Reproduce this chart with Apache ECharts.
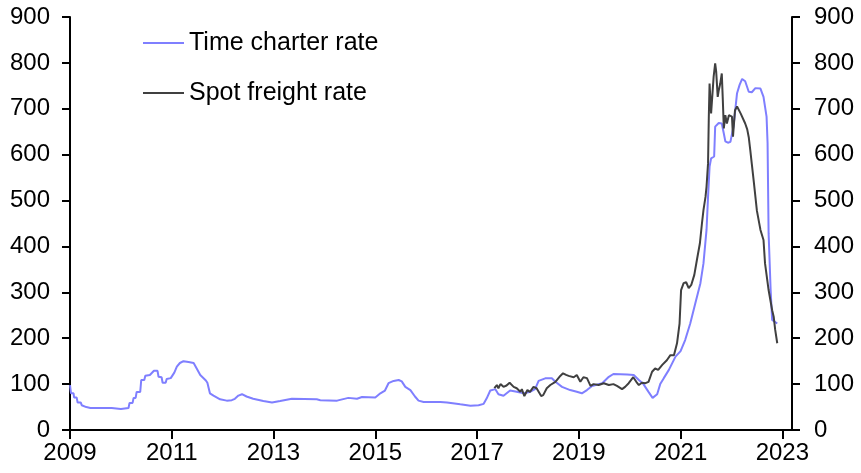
<!DOCTYPE html>
<html>
<head>
<meta charset="utf-8">
<script src="https://cdn.jsdelivr.net/npm/echarts@6/dist/echarts.min.js"></script>
<style>
html,body{margin:0;padding:0;background:#fff;}
#chart{width:861px;height:473px;}
</style>
</head>
<body>
<div id="chart"></div>
<script>
const seriesNames = ['Time charter rate', 'Spot freight rate'];
const yearTicks = [2009, 2011, 2013, 2015, 2017, 2019, 2021, 2023];

const tcYears = [2009.00,2009.02,2009.07,2009.08,2009.13,2009.15,2009.21,2009.23,2009.32,2009.40,2009.82,2009.85,2010.00,2010.15,2010.17,2010.23,2010.25,2010.29,2010.31,2010.38,2010.40,2010.46,2010.48,2010.57,2010.60,2010.65,2010.72,2010.74,2010.80,2010.82,2010.88,2010.90,2010.98,2011.05,2011.10,2011.16,2011.23,2011.33,2011.43,2011.49,2011.56,2011.67,2011.70,2011.75,2011.82,2011.95,2012.08,2012.18,2012.24,2012.31,2012.38,2012.47,2012.60,2012.80,2012.97,2013.13,2013.36,2013.85,2013.92,2014.25,2014.47,2014.64,2014.74,2015.00,2015.10,2015.19,2015.26,2015.36,2015.46,2015.52,2015.59,2015.69,2015.78,2015.85,2015.95,2016.28,2016.41,2016.67,2016.87,2017.03,2017.13,2017.19,2017.26,2017.36,2017.42,2017.52,2017.65,2017.78,2017.92,2018.05,2018.14,2018.21,2018.34,2018.47,2018.54,2018.67,2018.83,2018.96,2019.06,2019.16,2019.26,2019.46,2019.59,2019.68,2019.95,2020.08,2020.18,2020.27,2020.37,2020.45,2020.54,2020.60,2020.67,2020.77,2020.90,2021.00,2021.09,2021.19,2021.29,2021.39,2021.45,2021.51,2021.54,2021.57,2021.60,2021.66,2021.68,2021.75,2021.81,2021.85,2021.88,2021.93,2021.98,2022.04,2022.11,2022.16,2022.21,2022.27,2022.34,2022.40,2022.47,2022.57,2022.63,2022.69,2022.71,2022.73,2022.77,2022.80,2022.90];
const tcValues = [98,80,80,71,71,60,60,54,50,48,48,46,46,48,59,59,70,70,83,83,109,109,118,120,124,129,129,116,115,103,103,111,113,125,138,146,150,148,146,134,120,108,103,80,75,67,64,65,68,75,78,73,68,63,60,63,68,67,65,64,70,68,72,71,80,86,102,107,109,106,94,87,73,64,61,61,60,56,53,54,57,69,86,89,78,74.5,86,83.5,80,83.5,89,107,112.6,112.6,105,94,87,83.5,80,87,96,102,116,122,121,120,109,100,83,70,78,100,113,131,160,172,196,232,276,320,363,436,508,574,592,596,661,669,668,646,629,626,628,661,734,752,765,760,737,736,745,744,726,683,625,429,305,240,232];

const spotYears = [2017.34,2017.39,2017.42,2017.46,2017.52,2017.58,2017.64,2017.72,2017.78,2017.85,2017.88,2017.93,2017.99,2018.04,2018.11,2018.17,2018.26,2018.30,2018.37,2018.44,2018.54,2018.62,2018.69,2018.75,2018.80,2018.90,2018.96,2019.03,2019.09,2019.16,2019.23,2019.29,2019.39,2019.49,2019.59,2019.68,2019.75,2019.85,2019.91,2019.98,2020.07,2020.13,2020.18,2020.24,2020.31,2020.37,2020.44,2020.50,2020.56,2020.64,2020.73,2020.80,2020.87,2020.93,2020.98,2021.01,2021.06,2021.11,2021.16,2021.21,2021.27,2021.32,2021.38,2021.42,2021.45,2021.49,2021.51,2021.54,2021.555,2021.57,2021.60,2021.62,2021.65,2021.68,2021.70,2021.73,2021.75,2021.78,2021.81,2021.83,2021.85,2021.88,2021.91,2021.95,2022.01,2022.03,2022.07,2022.11,2022.14,2022.18,2022.21,2022.27,2022.31,2022.34,2022.37,2022.40,2022.44,2022.50,2022.57,2022.63,2022.66,2022.73,2022.80,2022.83,2022.86,2022.90];
const spotValues = [91,98,91,100,94,97,103,94,91,83.5,89,74,87,83,94,91,74,76,91,98,105,116,123.5,120,118,115,120,105,115,113,96,100,98,102,98,100,96,89,94,102,115,105,98,103,102,105,127,134,131,142,152,163,163,189,232,305,320,322,309,316,338,370,407,450,479,508,530,581,683,755,690,686,770,799,781,726,740,755,777,720,657,686,668,686,683,639,697,705,708,690,688,668,655,638,610,580,540,478,436,414,363,305,261,247,218,189];

const zip = (xs, ys) => xs.map((x, i) => [x, ys[i]]);

const FONT = 'Liberation Sans, Arial, sans-serif';
const yAxisCommon = {
  type: 'value', min: 0, max: 900, interval: 100,
  axisLine: { show: true, lineStyle: { color: '#000', width: 2 } },
  axisTick: { show: true, length: 8, lineStyle: { color: '#000', width: 2 } },
  splitLine: { show: false },
  axisLabel: { color: '#000', fontSize: 24, fontFamily: FONT }
};

const chart = echarts.init(document.getElementById('chart'), null, { renderer: 'canvas' });
chart.setOption({
  animation: false,
  backgroundColor: '#fff',
  grid: { left: 70, right: 69, top: 17, bottom: 43, containLabel: false },
  legend: {
    orient: 'vertical', left: 143, top: 30, padding: 0,
    icon: 'rect', itemWidth: 41, itemHeight: 2, itemGap: 24,
    textStyle: { color: '#000', fontSize: 25, fontFamily: FONT, lineHeight: 26, padding: [0, 0, 0, 0] },
    data: seriesNames
  },
  xAxis: {
    type: 'value', min: 2009, max: 2023.19,
    axisLine: { show: true, lineStyle: { color: '#000', width: 2 } },
    axisTick: { show: true, length: 9, customValues: yearTicks, lineStyle: { color: '#000', width: 2 } },
    axisLabel: { customValues: yearTicks, formatter: v => String(Math.round(v)), color: '#000', fontSize: 24, fontFamily: FONT, margin: 11 },
    splitLine: { show: false }
  },
  yAxis: [
    Object.assign({}, yAxisCommon, { position: 'left', axisLabel: Object.assign({}, yAxisCommon.axisLabel, { margin: 20 }) }),
    Object.assign({}, yAxisCommon, { position: 'right', axisLabel: Object.assign({}, yAxisCommon.axisLabel, { margin: 22 }) })
  ],
  series: [
    { name: seriesNames[0], type: 'line', symbol: 'none', data: zip(tcYears, tcValues),
      lineStyle: { color: '#7f7fff', width: 2 }, itemStyle: { color: '#7f7fff' } },
    { name: seriesNames[1], type: 'line', symbol: 'none', data: zip(spotYears, spotValues),
      lineStyle: { color: '#404040', width: 2 }, itemStyle: { color: '#404040' } }
  ]
});
</script>
</body>
</html>
